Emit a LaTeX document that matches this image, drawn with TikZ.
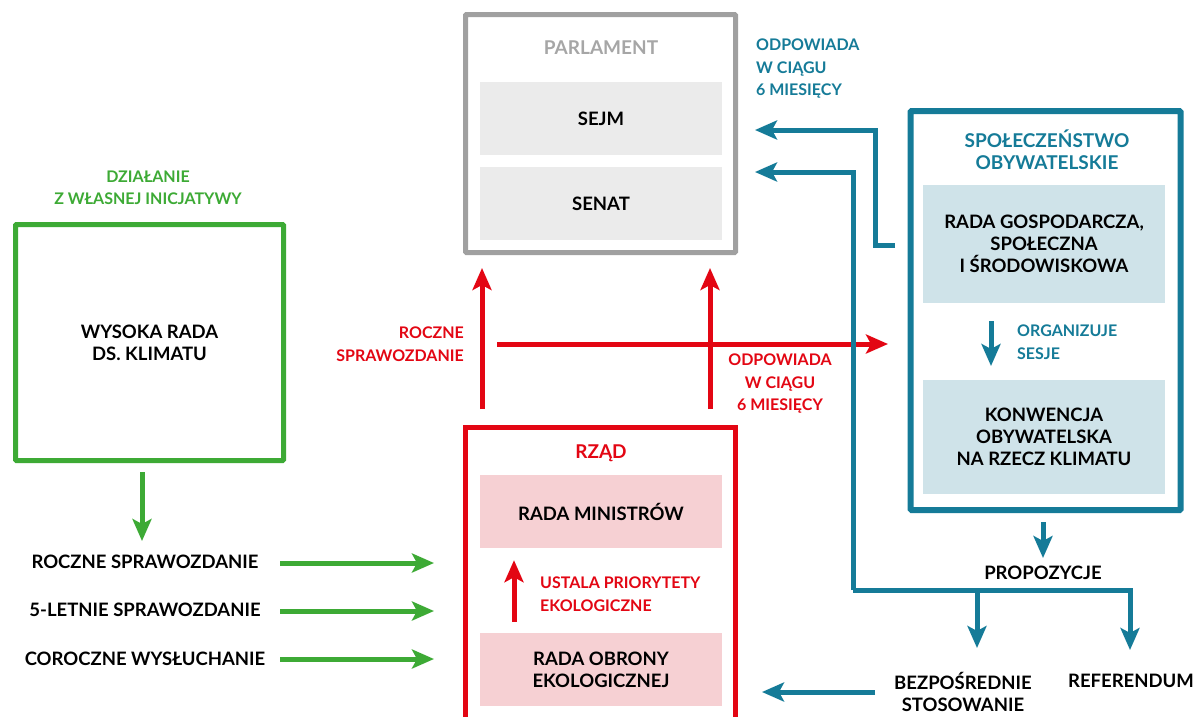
\documentclass[tikz,border=0pt]{standalone}
\usepackage{fontspec}
\setmainfont{Lato}
\usetikzlibrary{arrows.meta,calc}
\definecolor{teal1}{RGB}{21,123,152}
\definecolor{red1}{RGB}{227,6,19}
\definecolor{green1}{RGB}{61,170,53}
\definecolor{gray1}{RGB}{160,160,160}
\definecolor{gray2}{RGB}{166,166,166}
\definecolor{gfill}{RGB}{235,235,235}
\definecolor{bfill}{RGB}{207,227,233}
\definecolor{pfill}{RGB}{246,208,211}
\tikzset{
  txt/.style={align=center, inner sep=0pt, font=\fontsize{18.5}{22}\selectfont\bfseries, text=black},
  lbl/.style={align=center, inner sep=0pt, font=\fontsize{16}{22.5}\selectfont\bfseries},
  ttl/.style={align=center, inner sep=0pt, font=\fontsize{19}{22}\selectfont\bfseries},
  inbox/.style={txt, minimum width=242pt, minimum height=73pt},
  tip/.style={-{Stealth[length=22pt,width=19pt,inset=5pt]}},
  tealarrow/.style={draw=teal1, line width=5pt, tip, teal1, miter limit=10},
  redarrow/.style={draw=red1, line width=5pt, tip, red1},
  greenarrow/.style={draw=green1, line width=5pt, tip, green1},
}
\begin{document}
\begin{tikzpicture}[x=1pt,y=-1pt]
\useasboundingbox[fill=white] (0,0) rectangle (1197,716);

% ---------- Parliament ----------
\node (parl) [draw=gray1, line width=5pt, minimum width=270pt, minimum height=238pt, rounded corners=1pt] at (600.5,133.5) {};
\node (parltitle) [ttl, text=gray2] at (601,48) {PARLAMENT};
\node (sejm) [inbox, fill=gfill] at (601,118.5) {SEJM};
\node (senat) [inbox, fill=gfill] at (601,203.5) {SENAT};
\node (odp1) [lbl, text=teal1, align=left, anchor=north west] at (756,39) {ODPOWIADA\\W CIĄGU\\6 MIESIĘCY};

% ---------- Civil society ----------
\node (spol) [draw=teal1, line width=6pt, minimum width=270pt, minimum height=399pt, rounded corners=1pt] at (1045.5,310.5) {};
\node (spoltitle) [ttl, text=teal1] at (1047,150) {SPOŁECZEŃSTWO\\OBYWATELSKIE};
\node (rgs) [txt, fill=bfill, minimum width=242pt, minimum height=118pt] at (1044,244) {RADA GOSPODARCZA,\\SPOŁECZNA\\I ŚRODOWISKOWA};
\node (konw) [txt, fill=bfill, minimum width=242pt, minimum height=114pt] at (1044,437) {KONWENCJA\\OBYWATELSKA\\NA RZECZ KLIMATU};
\coordinate (org1) at (991,321);
\coordinate (org2) at (991,366);
\draw[tealarrow] (org1) -- (org2);
\node (orglbl) [lbl, text=teal1, align=left, anchor=west] at (1017,342) {ORGANIZUJE\\SESJE};

\node (prop) [txt] at (1043,573) {PROPOZYCJE};
\coordinate (p1) at (1043,522);
\coordinate (p2) at (1043,558);
\draw[tealarrow] (p1) -- (p2);

\node (bezp) [txt] at (963,692) {BEZPOŚREDNIE\\STOSOWANIE};
\node (ref) [txt] at (1131,681) {REFERENDUM};

% teal connectors
\coordinate (s1) at (895,245);
\coordinate (t1) at (755,130);
\draw[tealarrow] (s1) -- (875,245) |- (t1);
\coordinate (j) at (853,590);
\coordinate (t2) at (755,172);
\coordinate (tb) at (977,648);
\coordinate (tr) at (1130,650);
\draw[tealarrow] (j) -- (tr |- j) -- (tr);
\draw[tealarrow] (tb |- j) -- (tb);
\coordinate (b1) at (875,692);
\coordinate (b2) at (762,692);
\draw[tealarrow] (b1) -- (b2);

% ---------- Government ----------
\draw[red1, line width=5pt] (465.5,725) -- (465.5,427.5) -- (735.5,427.5) -- (735.5,725);
\node (rzad) [ttl, text=red1] at (601,453) {RZĄD};
\node (rm) [inbox, fill=pfill] at (601,511.5) {RADA MINISTRÓW};
\node (rob) [inbox, fill=pfill] at (601,669.5) {RADA OBRONY\\EKOLOGICZNEJ};
\draw[redarrow] ($(rob.north)+(-87,-11)$) -- ($(rm.south)+(-87,12)$);
\node (ustala) [lbl, text=red1, align=left, anchor=west] at (540,594) {USTALA PRIORYTETY\\EKOLOGICZNE};

% red connectors
\coordinate (r1s) at (482,409);
\coordinate (r1e) at (482,268);
\coordinate (r2s) at (710,409);
\coordinate (r2e) at (710,268);
\draw[redarrow] (r1s) -- (r1e);
\draw[redarrow] (r2s) -- (r2e);
\coordinate (h1) at (497,344);
\coordinate (h2) at (888,344);
\draw[redarrow] (h1) -- (h2);
\node (roczne) [lbl, text=red1, align=right, anchor=east] at (464,344) {ROCZNE\\SPRAWOZDANIE};
\node (odp2) [lbl, text=red1] at (780,384) {ODPOWIADA\\W CIĄGU\\6 MIESIĘCY};

% teal vertical line over red arrow
\draw[tealarrow] (j) -- (j |- t2) -- (t2);

% ---------- High council ----------
\node (hcc) [txt, draw=green1, line width=5pt, minimum width=268pt, minimum height=236pt, rounded corners=1pt] at (149.5,342.5) {WYSOKA RADA\\DS. KLIMATU};
\node (dzial) [lbl, text=green1] at (148,188) {DZIAŁANIE\\Z WŁASNEJ INICJATYWY};
\coordinate (g0) at (142,472);
\coordinate (g1) at (142,541);
\draw[greenarrow] (g0) -- (g1);
\node (l1) [txt] at (145,562) {ROCZNE SPRAWOZDANIE};
\node (l2) [txt] at (145,610) {5-LETNIE SPRAWOZDANIE};
\node (l3) [txt] at (145,659) {COROCZNE WYSŁUCHANIE};
\coordinate (ga1) at (280,563);
\coordinate (ga2) at (434,563);
\coordinate (gb1) at (280,611);
\coordinate (gb2) at (434,611);
\coordinate (gc1) at (280,659);
\coordinate (gc2) at (434,659);
\draw[greenarrow] (ga1) -- (ga2);
\draw[greenarrow] (gb1) -- (gb2);
\draw[greenarrow] (gc1) -- (gc2);
\end{tikzpicture}
\end{document}
